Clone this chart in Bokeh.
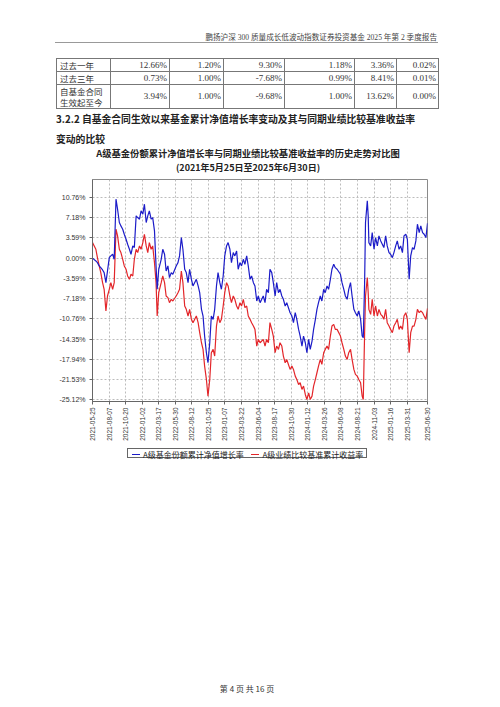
import math
import pandas as pd
from bokeh.plotting import figure
from bokeh.models import (Div, Range1d, FixedTicker, DatetimeTickFormatter,
                          PrintfTickFormatter)
from bokeh.layouts import column
from bokeh.embed import file_html
from bokeh.resources import INLINE

# ---------------- data ----------------
header_text = "鹏扬沪深 300 质量成长低波动指数证券投资基金 2025 年第 2 季度报告"
table_periods = ["过去一年", "过去三年", "自基金合同<br>生效起至今"]
table_row1 = ["12.66%", "1.20%", "9.30%", "1.18%", "3.36%", "0.02%"]
table_row2 = ["0.73%", "1.00%", "-7.68%", "0.99%", "8.41%", "0.01%"]
table_row3 = ["3.94%", "1.00%", "-9.68%", "1.00%", "13.62%", "0.00%"]
heading_line1 = "3.2.2 自基金合同生效以来基金累计净值增长率变动及其与同期业绩比较基准收益率"
heading_line2 = "变动的比较"
chart_title = "A级基金份额累计净值增长率与同期业绩比较基准收益率的历史走势对比图"
chart_subtitle = "(2021年5月25日至2025年6月30日)"
footer_text = "第 4 页 共 16 页"
legend_labels = ["A级基金份额累计净值增长率", "A级业绩比较基准累计收益率"]
series_colors = ["#1c1cc8", "#e3262a"]

start_date = "2021-05-25"
end_date = "2025-06-30"
day_offsets = [
    0, 15, 22, 30, 37, 45, 52, 60, 67, 75,
    82, 90, 97, 105, 112, 120, 127, 135, 142, 150,
    157, 165, 172, 180, 187, 195, 202, 210, 217, 225,
    232, 240, 247, 254, 262, 269, 277, 284, 289, 296,
    307, 314, 322, 329, 337, 344, 352, 359, 374, 382,
    389, 397, 404, 412, 419, 427, 434, 442, 449, 464,
    472, 479, 487, 494, 501, 509, 516, 524, 531, 539,
    546, 554, 561, 569, 576, 584, 591, 599, 606, 614,
    621, 629, 636, 644, 651, 659, 666, 674, 681, 689,
    696, 704, 711, 719, 726, 734, 741, 749, 763, 771,
    778, 786, 793, 801, 808, 816, 823, 831, 838, 846,
    853, 861, 868, 883, 891, 898, 906, 913, 921, 928,
    936, 943, 951, 958, 966, 973, 981, 988, 996, 1003,
    1010, 1018, 1025, 1033, 1040, 1048, 1055, 1063, 1070, 1078,
    1085, 1093, 1108, 1115, 1123, 1130, 1138, 1145, 1153, 1160,
    1168, 1175, 1183, 1190, 1198, 1205, 1210, 1216, 1220, 1228,
    1232, 1235, 1243, 1250, 1258, 1265, 1273, 1280, 1288, 1295,
    1302, 1310, 1317, 1325, 1332, 1340, 1347, 1355, 1362, 1370,
    1377, 1385, 1392, 1400, 1407, 1415, 1422, 1430, 1437, 1445,
    1452, 1460, 1467, 1475, 1482, 1490, 1497,
]
fund_growth = [
    0.00, -0.49, -0.79, -1.38, -1.68, -2.09, -2.56, -4.34, -2.27, 0.10,
    0.40, 0.69, -0.20, 10.46, 8.68, 6.32, 5.72, 5.13, 4.24, 3.36,
    2.47, 1.58, 0.69, 2.17, 1.88, 7.50, 7.20, 6.91, 8.39, 7.80,
    9.57, 6.32, 7.50, 8.39, 6.91, 7.20, 4.84, -1.38, -5.52, -1.97,
    -0.20, 1.58, 0.69, -2.27, -1.38, -3.45, -2.56, -2.86, -1.38, -0.79,
    0.40, 3.65, 1.58, -1.97, -2.56, -4.34, -1.97, -3.75, -4.93, -3.75,
    -4.93, -6.12, -9.08, -10.26, -13.81, -16.77, -18.55, -15.00, -10.26, -10.85,
    -9.08, -4.93, -2.56, -4.34, -5.52, -3.16, 0.40, 2.17, 2.76, 1.58,
    -0.79, 0.99, 0.40, 1.28, -1.97, -0.79, -1.38, -0.20, -1.08, 0.40,
    -1.38, -3.75, -3.16, -4.34, -4.93, -7.60, -6.71, -7.89, -6.71, -7.89,
    -5.52, -6.12, -1.97, -2.56, -4.34, -6.71, -4.34, -6.12, -5.52, -6.71,
    -7.30, -8.48, -7.89, -9.67, -10.26, -11.44, -9.67, -10.85, -12.63, -13.81,
    -15.59, -13.81, -15.00, -16.77, -14.40, -16.18, -14.70, -12.63, -10.85, -9.08,
    -7.89, -6.71, -7.60, -5.52, -6.12, -4.93, -5.52, -3.75, -1.97, -1.08,
    -1.68, -1.97, -2.86, -4.34, -5.52, -6.71, -7.30, -5.52, -4.34, -6.71,
    -9.08, -9.67, -10.26, -9.37, -10.85, -13.81, -14.11, -4.34, 6.32, 10.16,
    7.50, 2.76, 2.17, 4.54, 1.58, 3.65, 2.17, 3.95, 3.06, 2.47,
    1.88, 3.95, 2.17, 0.99, 0.69, 0.10, 0.99, 2.17, 3.06, 1.58,
    2.17, 0.99, 3.95, 4.24, 3.36, -3.75, 0.40, 1.88, 1.58, 3.06,
    6.02, 4.54, 5.72, 4.54, 4.24, 3.65, 6.20,
]
benchmark_return = [
    2.76, 1.58, 0.10, -1.38, -2.56, -4.34, -5.52, -9.37, -6.71, -5.52,
    -4.34, -5.52, -4.34, 5.13, 3.95, 1.58, 0.99, -0.20, -1.38, -1.97,
    -3.16, -3.75, -2.86, -3.16, -0.20, 1.58, 0.99, 2.17, 1.58, 2.76,
    4.24, 2.17, 0.99, 2.76, 1.58, 2.17, -0.79, -4.34, -10.26, -6.12,
    -4.34, -3.16, -4.34, -6.71, -7.00, -7.89, -7.30, -7.60, -6.71, -6.12,
    -5.52, -2.27, -4.34, -8.48, -9.08, -10.26, -9.08, -10.85, -11.44, -10.26,
    -11.44, -13.22, -15.00, -16.18, -19.14, -21.51, -24.47, -21.51, -16.77, -16.18,
    -17.36, -12.04, -10.26, -11.44, -10.85, -8.48, -6.12, -4.34, -4.93, -6.71,
    -7.89, -6.71, -7.30, -8.48, -9.08, -7.89, -8.48, -7.30, -8.78, -8.48,
    -10.26, -10.85, -11.44, -12.04, -12.63, -15.59, -14.40, -15.00, -14.40, -15.59,
    -14.40, -15.00, -11.44, -12.63, -13.81, -16.77, -15.59, -16.18, -15.00, -15.59,
    -17.36, -18.55, -17.96, -19.73, -19.14, -19.73, -20.92, -21.51, -22.40, -22.10,
    -23.28, -22.69, -24.17, -25.06, -23.88, -25.06, -24.47, -22.69, -21.51, -20.32,
    -19.14, -17.96, -18.84, -16.77, -16.18, -15.59, -16.18, -13.81, -12.04, -11.74,
    -12.63, -12.63, -13.81, -15.00, -16.18, -17.36, -17.96, -16.77, -16.18, -17.96,
    -19.73, -20.62, -20.92, -21.51, -22.10, -24.47, -25.06, -13.22, -6.71, -3.45,
    -6.12, -9.08, -9.96, -7.30, -10.26, -8.48, -10.26, -9.08, -9.96, -10.26,
    -10.85, -9.08, -11.44, -12.04, -12.63, -13.22, -12.04, -11.44, -10.85, -12.63,
    -12.04, -12.63, -10.26, -9.67, -10.85, -16.77, -13.22, -12.04, -12.04, -10.85,
    -9.08, -9.67, -9.37, -9.67, -10.26, -10.85, -8.90,
]
x_tick_labels = [
    "2021-05-25", "2021-08-07", "2021-10-20", "2022-01-02", "2022-03-17",
    "2022-05-30", "2022-08-12", "2022-10-25", "2023-01-07", "2023-03-22",
    "2023-06-04", "2023-08-17", "2023-10-30", "2024-01-12", "2024-03-26",
    "2024-06-08", "2024-08-21", "2024-11-03", "2025-01-16", "2025-03-31",
    "2025-06-30",
]
y_tick_labels = ["10.76%", "7.18%", "3.59%", "0.00%", "-3.59%", "-7.18%",
                 "-10.76%", "-14.35%", "-17.94%", "-21.53%", "-25.12%"]

assert len(day_offsets) == len(fund_growth) == len(benchmark_return)

# ---------------- top text block ----------------
CJK = "'Noto Sans CJK SC'"
SERIF = "'Liberation Serif', 'Noto Sans CJK SC'"
col_widths = [54, 59, 54, 61, 70, 42, 42]
row_heights = [13, 13, 24]

def table_html():
    cols = "".join(f'<col style="width:{w}px">' for w in col_widths)
    rows = []
    for period, vals, h in zip(table_periods, [table_row1, table_row2, table_row3], row_heights):
        cells = [f'<td style="border:1px solid #777;padding:0 0 0 3px;text-align:left;'
                 f'height:{h-1}px;line-height:11px;font-family:{CJK};font-size:8.5px;'
                 f'color:#333;white-space:nowrap;overflow:hidden">{period}</td>']
        for v in vals:
            cells.append(f'<td style="border:1px solid #777;padding:0 2px 0 0;text-align:right;'
                         f'height:{h-1}px;line-height:11px;font-family:{SERIF};font-size:9px;'
                         f'color:#333;white-space:nowrap;overflow:hidden">{v}</td>')
        rows.append(f'<tr style="height:{h}px">' + "".join(cells) + "</tr>")
    return (f'<table style="position:absolute;left:51px;top:53px;border-collapse:collapse;'
            f'border-spacing:0;table-layout:fixed;width:382px">{cols}{"".join(rows)}</table>')

top_html = f"""
<div style="position:relative;width:484px;height:168px;overflow:visible;">
  <div style="position:absolute;left:0;top:28px;width:432px;text-align:right;font-family:{SERIF};
       font-size:7.6px;line-height:10px;color:#444;white-space:nowrap">{header_text}</div>
  <div style="position:absolute;left:50px;top:37px;width:383px;border-top:1px solid #999"></div>
  {table_html()}
  <div style="position:absolute;left:51px;top:107px;font-family:{CJK};font-weight:bold;
       font-size:9.8px;line-height:14px;color:#222;white-space:nowrap">{heading_line1}</div>
  <div style="position:absolute;left:51px;top:127px;font-family:{CJK};font-weight:bold;
       font-size:9.8px;line-height:14px;color:#222;white-space:nowrap">{heading_line2}</div>
  <div style="position:absolute;left:0;top:142px;width:486px;text-align:center;font-family:{CJK};
       font-weight:bold;font-size:9.3px;line-height:12px;color:#222;white-space:nowrap">{chart_title}</div>
  <div style="position:absolute;left:0;top:157px;width:486px;text-align:center;font-family:{CJK};
       font-weight:bold;font-size:9px;line-height:12px;color:#222;white-space:nowrap">{chart_subtitle}</div>
</div>
"""
top_div = Div(text=top_html, width=484, height=168, styles={"overflow": "visible"})

# ---------------- chart ----------------
dates = pd.to_datetime(start_date) + pd.to_timedelta(day_offsets, unit="D")

p = figure(width=484, height=267, x_axis_type="datetime", title=None,
           output_backend="svg", toolbar_location=None,
           x_range=Range1d(pd.Timestamp(start_date), pd.Timestamp(end_date)),
           y_range=Range1d(-25.42, 13.95),
           min_border_left=92, min_border_right=57, min_border_top=1, min_border_bottom=44)
p.background_fill_color = "white"
p.border_fill_color = "white"
p.outline_line_color = "#8a8a8a"
p.outline_line_width = 1

x_ticks = [pd.Timestamp(s).timestamp() * 1000 for s in x_tick_labels]
y_ticks = [float(s.rstrip("%")) for s in y_tick_labels]
fmt = "%Y-%m-%d"
p.xaxis.ticker = FixedTicker(ticks=x_ticks)
p.xaxis.formatter = DatetimeTickFormatter(
    milliseconds=fmt, seconds=fmt, minsec=fmt, minutes=fmt, hourmin=fmt, hours=fmt,
    days=fmt, months=fmt, years=fmt)
p.yaxis.ticker = FixedTicker(ticks=y_ticks)
p.yaxis.formatter = PrintfTickFormatter(format="%.2f%%")

for ax in (p.xaxis, p.yaxis):
    ax.axis_line_color = "#666"
    ax.major_tick_line_color = "#666"
    ax.major_tick_out = 3
    ax.major_tick_in = 0
    ax.minor_tick_line_color = None
    ax.major_label_text_font = "Liberation Sans"
    ax.major_label_text_color = "#333"
p.xaxis.major_label_orientation = math.pi / 2
p.xaxis.major_label_text_font_size = "6.5px"
p.xaxis.major_label_standoff = 3
p.yaxis.major_label_text_font_size = "7px"
p.yaxis.major_label_standoff = 4

p.xgrid.grid_line_color = "#bcbcbc"
p.ygrid.grid_line_color = "#bcbcbc"
p.xgrid.grid_line_dash = "2 2"
p.ygrid.grid_line_dash = "2 2"

p.line(dates, benchmark_return, line_color=series_colors[1], line_width=1.2)
p.line(dates, fund_growth, line_color=series_colors[0], line_width=1.2)

# ---------------- legend + footer (HTML) ----------------
def legend_entry(color, label):
    return (f'<span style="display:inline-block;width:8px;height:0;border-top:1.5px solid {color};'
            f'vertical-align:middle;margin:0 3px 0 4px"></span>'
            f'<span style="vertical-align:middle">{label}</span>')

footer_html = f"""
<div style="position:relative;width:484px;height:256px;">
  <div style="position:absolute;left:122px;top:-2px;width:240px;height:10px;border:1px solid #666;
       font-family:{CJK};font-size:8px;line-height:10px;color:#222;white-space:nowrap;background:white">
    {legend_entry(series_colors[0], legend_labels[0])}&nbsp;&nbsp;{legend_entry(series_colors[1], legend_labels[1])}
  </div>
  <div style="position:absolute;left:0;top:234px;width:484px;text-align:center;font-family:{CJK};
       font-size:8px;line-height:10px;color:#333;white-space:nowrap">{footer_text}</div>
</div>
"""
footer_div = Div(text=footer_html, width=484, height=256, styles={"overflow": "visible"})

layout = column(top_div, p, footer_div, spacing=0)
open("out.html", "w").write(file_html(layout, INLINE))
